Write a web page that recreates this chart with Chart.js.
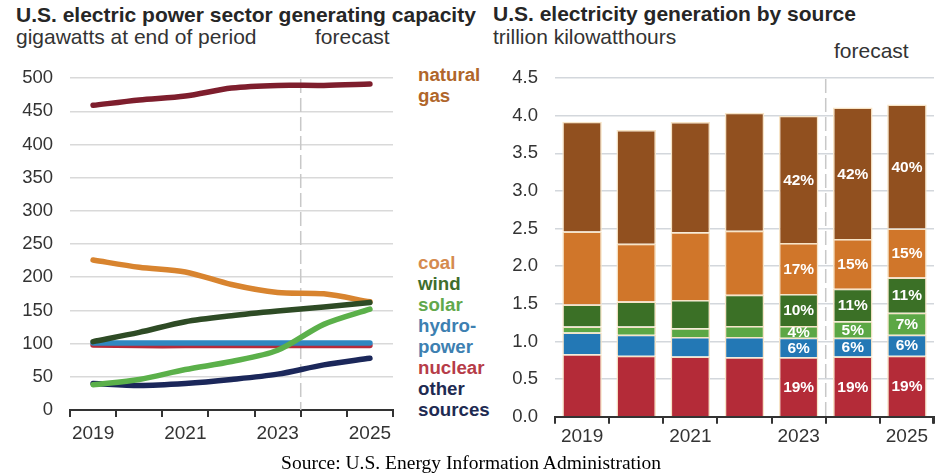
<!DOCTYPE html>
<html>
<head>
<meta charset="utf-8">
<script src="https://cdn.jsdelivr.net/npm/chart.js@4.4.0/dist/chart.umd.min.js"></script>
<style>
  body { margin: 0; width: 942px; height: 476px; background: #fff; position: relative; overflow: hidden;
         font-family: "Liberation Sans", Arial, sans-serif; color: #262626; }
  .t { position: absolute; white-space: nowrap; line-height: 1; }
  .title { font-weight: bold; font-size: 21px; }
  .sub { font-size: 21px; color: #333; }
  .lg { position: absolute; left: 418px; white-space: nowrap; line-height: 1; font-weight: bold; font-size: 18.7px; }
  #left { position: absolute; left: 0; top: 50px; width: 400px; height: 400px; }
  #right { position: absolute; left: 480px; top: 50px; width: 462px; height: 410px; }
  .src { position: absolute; left: 0; width: 942px; text-align: center; top: 453px; line-height: 1;
         font-family: "Liberation Serif", "Times New Roman", serif; font-size: 19.5px; color: #000; }
</style>
</head>
<body>
<div class="t title" style="left:16px; top:4px">U.S. electric power sector generating capacity</div>
<div class="t sub" style="left:16px; top:26px">gigawatts at end of period</div>
<div class="t sub" style="left:315px; top:26px">forecast</div>

<div class="t title" style="left:493px; top:3px">U.S. electricity generation by source</div>
<div class="t sub" style="left:493px; top:26px">trillion kilowatthours</div>
<div class="t sub" style="left:834px; top:40px">forecast</div>

<div class="lg" style="top:66px; color:#b0662a">natural</div>
<div class="lg" style="top:87px; color:#b0662a">gas</div>
<div class="lg" style="top:254px; color:#d58b4f">coal</div>
<div class="lg" style="top:275px; color:#3f6d2d">wind</div>
<div class="lg" style="top:296px; color:#62a84c">solar</div>
<div class="lg" style="top:317px; color:#3d80b1">hydro-</div>
<div class="lg" style="top:338px; color:#3d80b1">power</div>
<div class="lg" style="top:359px; color:#b63c48">nuclear</div>
<div class="lg" style="top:380px; color:#1e2b52">other</div>
<div class="lg" style="top:401px; color:#1e2b52">sources</div>

<div id="left"><canvas id="capChart"></canvas></div>
<div id="right"><canvas id="genChart"></canvas></div>

<div class="src">Source: U.S. Energy Information Administration</div>

<script>
// capacity, gigawatts at end of year
const years = [2019, 2020, 2021, 2022, 2023, 2024, 2025];
const naturalGasGW = [459, 467, 473, 485, 489, 489, 491];
const coalGW = [226, 215, 208, 189, 177, 175, 163];
const windGW = [103, 117, 133, 142, 149, 155, 162];
const solarGW = [38, 46, 61, 73, 90, 129, 152];
const hydroGW = [101, 101, 101, 101, 101, 101, 101];
const nuclearGW = [98, 97, 97, 97, 97, 97, 97];
const otherGW = [40, 37, 40, 46, 54, 68, 78];

// generation, trillion kWh
const genLabels = ['2019', '2020', '2021', '2022', '2023', '2024', '2025'];
const nuclearTkwh = [0.83, 0.81, 0.80, 0.79, 0.79, 0.80, 0.81];
const hydroTkwh = [0.29, 0.28, 0.26, 0.27, 0.26, 0.25, 0.28];
const solarTkwh = [0.08, 0.11, 0.115, 0.145, 0.155, 0.22, 0.29];
const windTkwh = [0.29, 0.33, 0.375, 0.415, 0.425, 0.43, 0.47];
const coalTkwh = [0.97, 0.77, 0.90, 0.85, 0.68, 0.66, 0.65];
const gasTkwh = [1.46, 1.51, 1.465, 1.57, 1.69, 1.75, 1.65];

// share labels (only the last three bars have them)
const nuclearPct = ['', '', '', '', '19%', '19%', '19%'];
const hydroPct = ['', '', '', '', '6%', '6%', '6%'];
const solarPct = ['', '', '', '', '4%', '5%', '7%'];
const windPct = ['', '', '', '', '10%', '11%', '11%'];
const coalPct = ['', '', '', '', '17%', '15%', '15%'];
const gasPct = ['', '', '', '', '42%', '42%', '40%'];

Chart.defaults.font.family = '"Liberation Sans", Arial, sans-serif';
Chart.defaults.color = '#333';
Chart.defaults.animation = false;

const forecastLine = {
  id: 'forecastLine',
  beforeDatasetsDraw(chart, args, opts) {
    const { ctx, chartArea } = chart;
    const x = chart.scales.x.getPixelForValue(opts.at);
    ctx.save();
    ctx.strokeStyle = '#c8c8c8';
    ctx.lineWidth = 1.5;
    ctx.setLineDash([14, 5]);
    ctx.beginPath();
    ctx.moveTo(x, chartArea.top + 1);
    ctx.lineTo(x, chartArea.bottom);
    ctx.stroke();
    ctx.restore();
  }
};

const pts = arr => years.map((y, i) => ({ x: y, y: arr[i] }));
const line = (data, color) => ({
  data: pts(data), borderColor: color, borderWidth: 5.5, pointRadius: 0,
  tension: 0.3, borderCapStyle: 'round', borderJoinStyle: 'round'
});

new Chart(document.getElementById('capChart'), {
  type: 'line',
  data: {
    datasets: [
      line(naturalGasGW, '#7e1e2d'),
      line(windGW, '#2e4b25'),
      line(coalGW, '#d8842f'),
      line(solarGW, '#5bb04a'),
      line(otherGW, '#1b275a'),
      line(hydroGW, '#2f87c1'),
      line(nuclearGW, '#b52b3b')
    ]
  },
  options: {
    responsive: true,
    maintainAspectRatio: false,
    layout: { padding: { top: 19, right: 7, left: 0, bottom: 0 } },
    plugins: { legend: { display: false }, tooltip: { enabled: false }, forecastLine: { at: 2023.5 } },
    scales: {
      x: {
        type: 'linear', min: 2018.5, max: 2025.5,
        afterBuildTicks(s) {
          s.ticks = [];
          for (let v = 2018.5; v <= 2025.5; v += 0.5) s.ticks.push({ value: v });
        },
        afterFit(s) { s.height = 40; },
        ticks: {
          autoSkip: false, maxRotation: 0, padding: 5, color: '#333', font: { size: 19 },
          callback: v => (v % 2 === 1 ? String(v) : '')
        },
        grid: {
          drawOnChartArea: false, tickLength: 7, lineWidth: 2,
          tickColor: c => (c.tick && c.tick.value % 1 !== 0 ? '#333' : 'rgba(0,0,0,0)')
        },
        border: { color: '#333', width: 2 }
      },
      y: {
        min: 0, max: 500,
        afterFit(s) { s.width = 70; },
        ticks: { stepSize: 50, padding: 17, color: '#333', font: { size: 18.5 } },
        grid: { color: c => (c.tick.value === 0 ? 'rgba(0,0,0,0)' : '#d9d9d9'), lineWidth: 1.5, drawTicks: false },
        border: { display: false }
      }
    }
  },
  plugins: [forecastLine]
});

const pctLabels = {
  id: 'pctLabels',
  afterDatasetsDraw(chart) {
    const { ctx } = chart;
    ctx.save();
    ctx.fillStyle = '#fff';
    ctx.font = 'bold 15.5px "Liberation Sans", Arial, sans-serif';
    ctx.textAlign = 'center';
    ctx.textBaseline = 'middle';
    chart.data.datasets.forEach((ds, i) => {
      chart.getDatasetMeta(i).data.forEach((bar, j) => {
        const txt = ds.pct[j];
        if (!txt) return;
        ctx.fillText(txt, bar.x, (bar.y + bar.base) / 2 + 1);
      });
    });
    ctx.restore();
  }
};

const edgeTick = {
  id: 'edgeTick',
  afterDraw(chart) {
    const { ctx, chartArea } = chart;
    ctx.save();
    ctx.strokeStyle = '#333';
    ctx.lineWidth = 2;
    ctx.beginPath();
    ctx.moveTo(chartArea.right - 1, chartArea.bottom);
    ctx.lineTo(chartArea.right - 1, chartArea.bottom + 7);
    ctx.stroke();
    ctx.restore();
  }
};

const bar = (label, data, color, pct) => ({
  label, data, pct, backgroundColor: color, borderColor: '#f7e4c6', borderWidth: 1.5,
  barPercentage: 0.73, categoryPercentage: 1
});

new Chart(document.getElementById('genChart'), {
  type: 'bar',
  data: {
    labels: genLabels,
    datasets: [
      bar('nuclear', nuclearTkwh, '#b42b38', nuclearPct),
      bar('hydropower', hydroTkwh, '#2378b5', hydroPct),
      bar('solar', solarTkwh, '#5ca745', solarPct),
      bar('wind', windTkwh, '#3b7026', windPct),
      bar('coal', coalTkwh, '#d0762a', coalPct),
      bar('natural gas', gasTkwh, '#91501f', gasPct)
    ]
  },
  options: {
    responsive: true,
    maintainAspectRatio: false,
    layout: { padding: { top: 15.7, right: 8, left: 0, bottom: 0 } },
    plugins: { legend: { display: false }, tooltip: { enabled: false }, forecastLine: { at: 4.5 } },
    scales: {
      x: {
        stacked: true,
        afterFit(s) { s.height = 43.3; },
        ticks: {
          autoSkip: false, maxRotation: 0, padding: 2, color: '#333', font: { size: 19 },
          callback: (v, i) => (i % 2 === 0 ? genLabels[i] : '')
        },
        grid: { drawOnChartArea: false, tickLength: 7, tickColor: '#333', lineWidth: 2 },
        border: { color: '#333', width: 2 }
      },
      y: {
        stacked: true, min: 0, max: 4.5,
        afterFit(s) { s.width = 75; },
        ticks: { stepSize: 0.5, padding: 17, color: '#333', font: { size: 18.5 }, callback: v => v.toFixed(1) },
        grid: { color: c => (c.tick.value === 0 ? 'rgba(0,0,0,0)' : '#d3d7dc'), lineWidth: 1.5, drawTicks: false },
        border: { display: false }
      }
    }
  },
  plugins: [forecastLine, pctLabels, edgeTick]
});
</script>
</body>
</html>
